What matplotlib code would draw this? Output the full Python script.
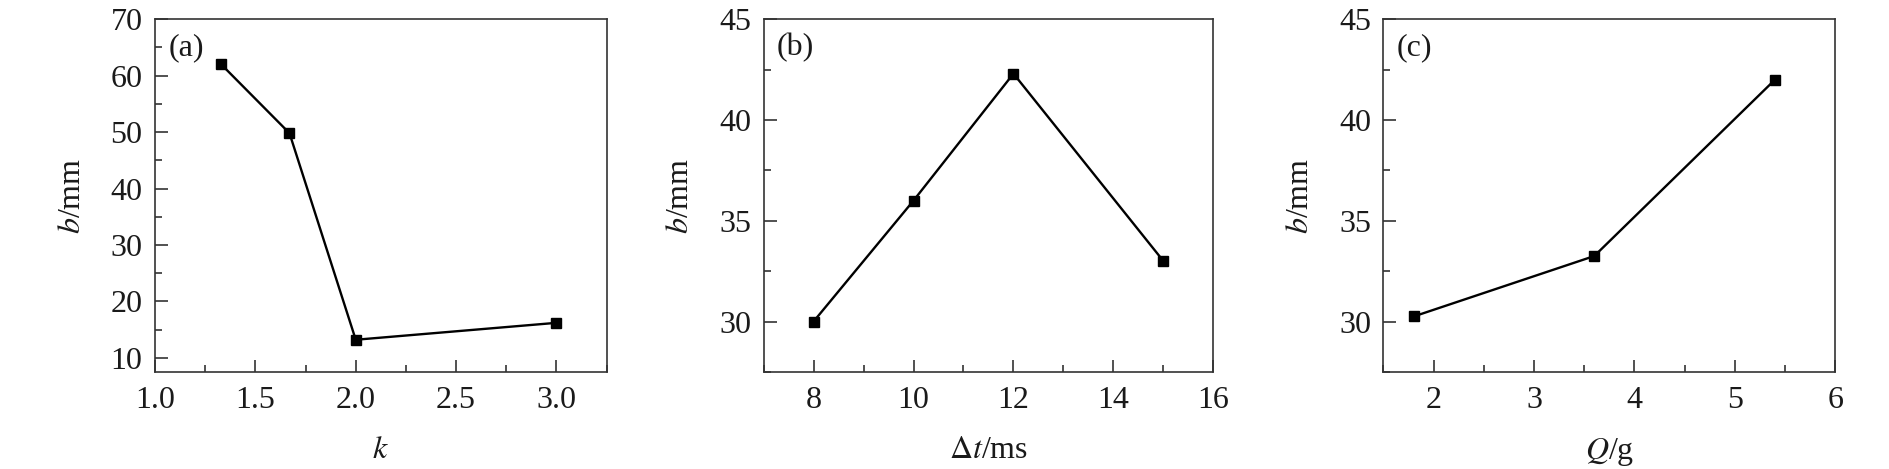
import numpy as np
import matplotlib
matplotlib.use('Agg')
import matplotlib.pyplot as plt
from matplotlib.ticker import MultipleLocator, FormatStrFormatter

plt.rcParams['font.family'] = ['Liberation Serif', 'DejaVu Serif']
plt.rcParams['mathtext.fontset'] = 'stix'

# data
k_vals = [1.33, 1.67, 2.0, 3.0]
b_k = [62.0, 49.8, 13.2, 16.2]

dt_vals = [8, 10, 12, 15]
b_dt = [30.0, 36.0, 42.3, 33.0]

q_vals = [1.8, 3.6, 5.4]
b_q = [30.25, 33.25, 42.0]

fig = plt.figure(figsize=(18.9, 4.69), dpi=100)

# axes boxes in figure fractions
boxes = [
    [0.082, 0.207, 0.239, 0.752],
    [0.404, 0.207, 0.238, 0.752],
    [0.732, 0.207, 0.239, 0.752],
]

panels = [
    (k_vals, b_k, r'$k$', (1.0, 3.25), (7.5, 70), 0.5, 0.25, 10, 5, '(a)'),
    (dt_vals, b_dt, r'$\Delta t$/ms', (7, 16), (27.5, 45), 2, 1, 5, 2.5, '(b)'),
    (q_vals, b_q, r'$Q$/g', (1.5, 6), (27.5, 45), 1, 0.5, 5, 2.5, '(c)'),
]

spine_col = '#333333'
txt_col = '#1a1a1a'
fs = 23

for box, (x, y, xlab, xl, yl, xmaj, xmin, ymaj, ymin, tag) in zip(boxes, panels):
    ax = fig.add_axes(box)
    ax.plot(x, y, color='black', lw=1.7, marker='s', ms=7, mfc='black', mec='black')
    ax.set_xlim(*xl)
    ax.set_ylim(*yl)
    ax.xaxis.set_major_locator(MultipleLocator(xmaj))
    ax.xaxis.set_minor_locator(MultipleLocator(xmin))
    ax.yaxis.set_major_locator(MultipleLocator(ymaj))
    ax.yaxis.set_minor_locator(MultipleLocator(ymin))
    if tag == '(a)':
        ax.xaxis.set_major_formatter(FormatStrFormatter('%.1f'))
    ax.tick_params(which='both', direction='in', color=spine_col, width=1.2,
                   labelsize=fs, labelcolor=txt_col)
    ax.tick_params(which='major', length=9)
    ax.tick_params(which='minor', length=5)
    ax.tick_params(axis='x', which='major', pad=10)
    ax.tick_params(axis='y', which='major', pad=9)
    for s in ax.spines.values():
        s.set_color(spine_col)
        s.set_linewidth(1.2)
    ax.set_xlabel(xlab, fontsize=fs, color=txt_col, labelpad=15)
    ax.set_ylabel(r'$b$/mm', fontsize=fs, color=txt_col, labelpad=17)
    ax.text(0.03, 0.92, tag, transform=ax.transAxes, fontsize=fs,
            color=txt_col, va='center', ha='left')

fig.savefig('out.png', dpi=100)
